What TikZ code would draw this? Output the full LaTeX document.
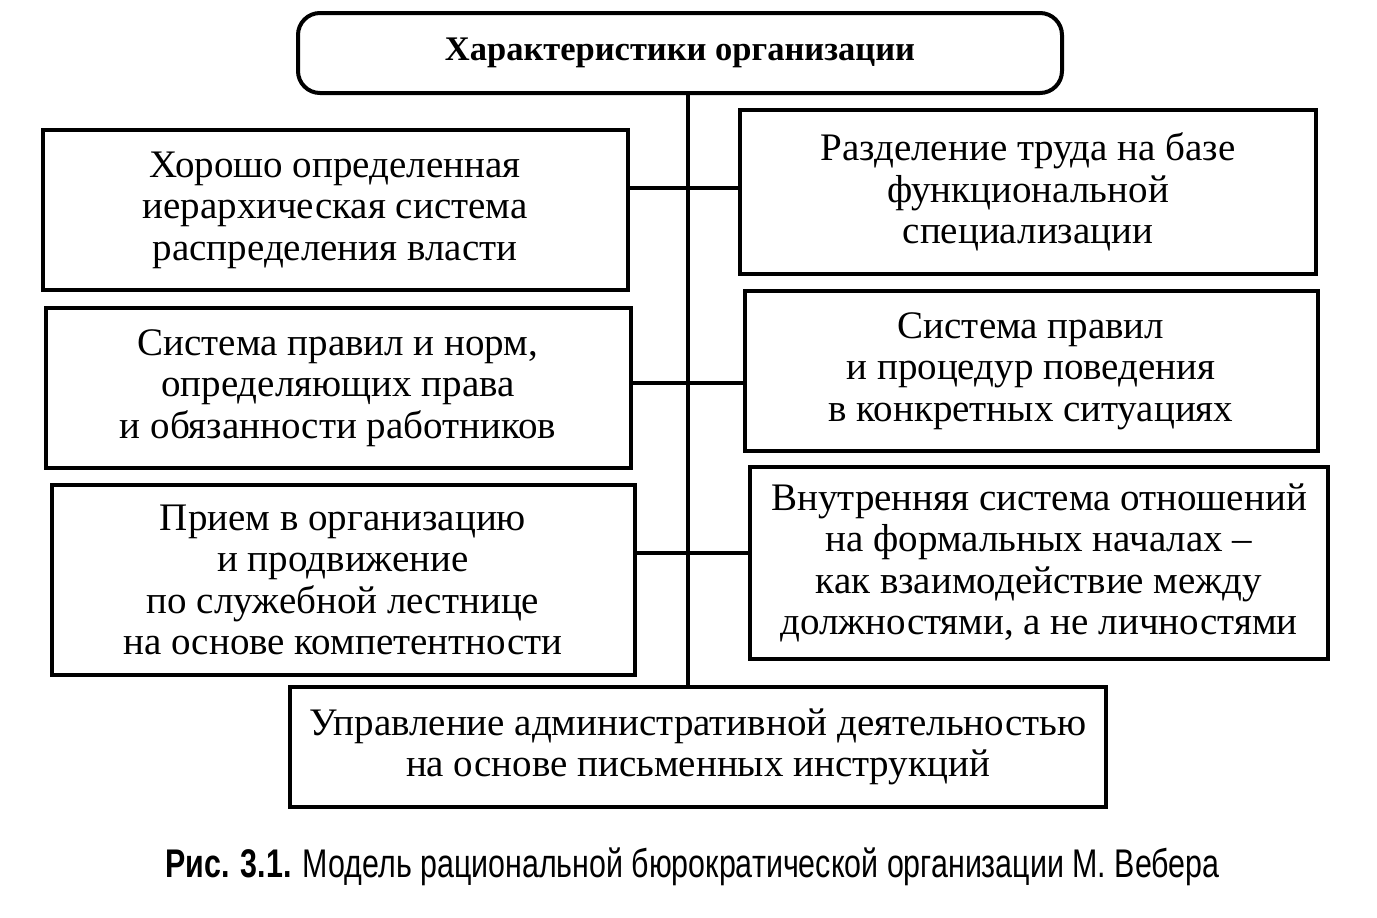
\documentclass[tikz,border=0pt]{standalone}
\usepackage{fontspec}
\setmainfont{Liberation Serif}
\newfontfamily\capfont[FakeStretch=0.76]{Liberation Sans}
\begin{document}
\begin{tikzpicture}[x=1pt,y=-1pt,
  box/.style={draw, line width=4pt, align=center, inner sep=0pt,
    font=\fontsize{39}{41.5}\selectfont},
  link/.style={line width=4pt}]
\useasboundingbox[fill=white] (0,0) rectangle (1377,918);
% title
\node[box, rounded corners=22pt, minimum width=764pt, minimum height=80pt,
  font=\fontsize{34.5}{40}\selectfont\bfseries] (T) at (680,53) {Характеристики организации};
% left column
\node[box, minimum width=585pt, minimum height=160pt] (L1) at (335,210)
  {Хорошо определенная\\иерархическая система\\распределения власти};
\node[box, minimum width=585pt, minimum height=160pt] (L2) at (338,388)
  {Система правил и норм,\\определяющих права\\и обязанности работников};
\node[box, minimum width=583pt, minimum height=190pt] (L3) at (343,580)
  {Прием в организацию\\и продвижение\\по служебной лестнице\\на основе компетентности};
% right column
\node[box, minimum width=576pt, minimum height=164pt] (R1) at (1028,192)
  {Разделение труда на базе\\функциональной\\специализации};
\node[box, minimum width=573pt, minimum height=160pt] (R2) at (1031,371)
  {Система правил\\и процедур поведения\\в конкретных ситуациях};
\node[box, minimum width=578pt, minimum height=192pt] (R3) at (1039,563)
  {Внутренняя система отношений\\на формальных началах –\\как взаимодействие между\\должностями, а не личностями};
% bottom
\node[box, minimum width=816pt, minimum height=120pt] (B) at (698,747)
  {Управление административной деятельностью\\на основе письменных инструкций};
% trunk
\coordinate (c1) at (688,188);
\coordinate (c2) at (688,383);
\coordinate (c3) at (688,553);
\draw[link] (T.south -| c1) -- (B.north -| c1);
\draw[link] (L1.east |- c1) -- (R1.west |- c1);
\draw[link] (L2.east |- c2) -- (R2.west |- c2);
\draw[link] (L3.east |- c3) -- (R3.west |- c3);
% caption
\node[anchor=base west, inner sep=0pt, font=\capfont\fontsize{40}{48}\selectfont] (cap) at (165,877)
  {\textbf{Рис. 3.1.} Модель рациональной бюрократической организации М. Вебера};
\end{tikzpicture}
\end{document}
